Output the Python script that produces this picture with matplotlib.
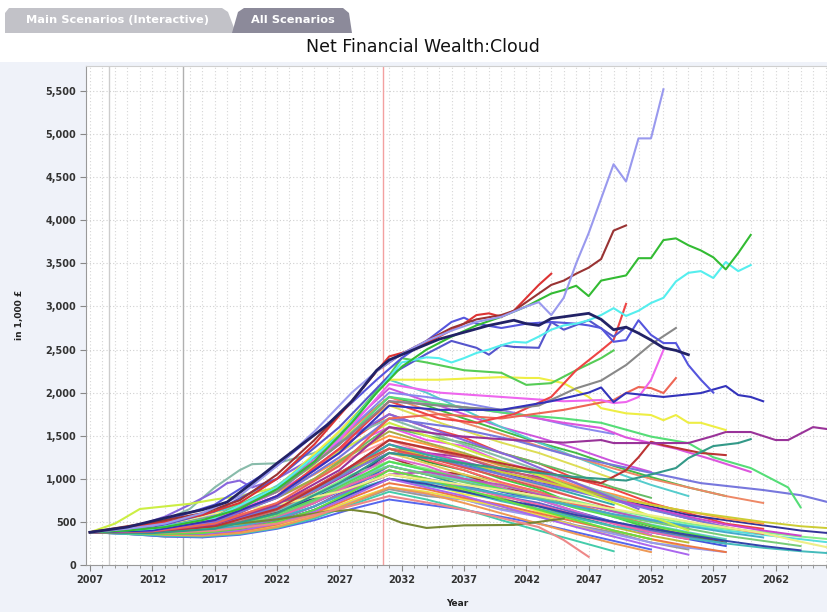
import matplotlib
matplotlib.use("Agg")
import matplotlib.pyplot as plt
from matplotlib.patches import Polygon
from matplotlib.ticker import MultipleLocator, FuncFormatter

# ---------------- data ----------------
title = "Net Financial Wealth:Cloud"
y_label = "in 1,000 £"
x_label = "Year"
tab_labels = ["Main Scenarios (Interactive)", "All Scenarios"]
x_ticks = [2007, 2012, 2017, 2022, 2027, 2032, 2037, 2042, 2047, 2052, 2057, 2062]
y_ticks = [0, 500, 1000, 1500, 2000, 2500, 3000, 3500, 4000, 4500, 5000, 5500]
marker_years = [2008.5, 2014.5, 2030.5]

cloud_years = [2007, 2010, 2013, 2016, 2019, 2022, 2025, 2028, 2031, 2034, 2037,
               2040, 2043, 2046, 2049, 2052, 2055, 2058, 2061, 2064, 2067]
N = None
cloud_lines = [
    [380, 420, 450, 500, 600, 800, 1100, 1450, 1750, 1600, 1480, 1300, 1180, 1000, 880, 720, 600, 480, 420, N, N],
    [380, 390, 360, 380, 430, 520, 680, 900, 1150, 1050, 980, 850, 760, 620, 500, 380, 300, 220, N, N, N],
    [380, 410, 420, 470, 560, 700, 900, 1150, 1400, 1250, 1150, 1000, 880, 700, 560, 420, 330, N, N, N, N],
    [380, 370, 340, 350, 400, 480, 620, 820, 1000, 950, 820, 760, 620, 520, 400, 300, 200, N, N, N, N],
    [380, 400, 430, 520, 650, 850, 1100, 1400, 1600, 1450, 1380, 1200, 1080, 920, 800, 650, N, N, N, N, N],
    [380, 380, 350, 360, 420, 540, 720, 950, 1200, 1100, 1030, 900, 830, 720, 620, 530, 460, 400, 350, 300, 250],
    [380, 420, 470, 530, 620, 780, 980, 1250, 1450, 1300, 1200, 1050, 920, 780, N, N, N, N, N, N, N],
    [380, 360, 330, 330, 370, 450, 560, 720, 880, 800, 760, 650, 580, 460, 380, 260, 180, N, N, N, N],
    [380, 400, 400, 430, 500, 620, 800, 1020, 1250, 1100, 1050, 900, 820, 680, 580, 450, 350, 260, N, N, N],
    [380, 390, 380, 410, 480, 600, 780, 1000, 1300, 1250, 1150, 1080, 950, 880, 760, 680, 580, 520, 460, 400, 360],
    [380, 410, 440, 480, 560, 690, 880, 1100, 1350, 1200, 1100, 950, 850, 700, 580, 450, 330, 250, N, N, N],
    [380, 370, 350, 370, 430, 530, 680, 880, 1050, 980, 860, 780, 650, 560, 440, 340, 260, N, N, N, N],
    [380, 400, 420, 460, 540, 660, 850, 1080, 1350, 1300, 1250, 1100, 1020, 900, 780, 650, 540, N, N, N, N],
    [380, 380, 370, 390, 450, 560, 730, 950, 1150, 1050, 920, 820, 680, 560, 450, N, N, N, N, N, N],
    [380, 420, 480, 560, 680, 850, 1050, 1300, 1500, 1400, 1280, 1150, 1060, 920, 820, 700, 620, 540, 480, N, N],
    [380, 360, 340, 350, 390, 470, 580, 740, 900, 820, 760, 640, 560, 450, 360, 260, 200, 150, N, N, N],
    [380, 390, 400, 440, 520, 640, 820, 1050, 1200, 1120, 1000, 920, 830, 740, 640, 560, 480, 420, 380, 330, 290],
    [380, 410, 430, 470, 550, 680, 870, 1100, 1300, 1180, 1050, 950, 820, 700, 580, 460, 360, N, N, N, N],
    [380, 370, 360, 380, 440, 560, 750, 1000, 1250, 1150, 1000, 900, 760, 620, 480, 350, N, N, N, N, N],
    [380, 400, 410, 450, 520, 630, 800, 1000, 1150, 1060, 980, 880, 780, 680, 560, 470, 380, 300, N, N, N],
    [380, 380, 390, 420, 500, 640, 850, 1150, 1450, 1350, 1250, 1120, 1000, 880, 760, 650, 540, 440, 360, N, N],
    [380, 390, 370, 390, 450, 560, 720, 920, 1100, 1000, 920, 800, 720, 600, 500, 400, 320, 250, N, N, N],
    [380, 420, 460, 520, 620, 780, 1000, 1300, 1600, 1500, 1420, 1300, 1180, 1050, 900, 780, N, N, N, N, N],
    [380, 370, 340, 340, 380, 460, 580, 750, 900, 850, 760, 680, 580, 450, 330, N, N, N, N, N, N],
    [380, 400, 420, 460, 540, 680, 880, 1150, 1400, 1300, 1200, 1080, 980, 860, 760, 660, 560, 470, 400, 340, N],
    [380, 380, 360, 370, 420, 510, 640, 820, 1000, 920, 850, 740, 650, 540, 450, 380, 310, 250, 200, 160, 130],
    [380, 410, 450, 500, 580, 710, 900, 1150, 1350, 1220, 1100, 960, 850, 700, 580, 460, N, N, N, N, N],
    [380, 360, 330, 320, 350, 420, 520, 650, 760, 700, 640, 560, 480, 380, 280, 180, N, N, N, N, N],
    [380, 400, 400, 420, 480, 590, 760, 980, 1200, 1100, 1000, 880, 780, 660, 560, 460, 370, 280, N, N, N],
    [380, 390, 410, 450, 530, 660, 860, 1120, 1350, 1280, 1180, 1080, 980, 880, 780, 700, 620, 560, 500, 450, 420],
    [380, 380, 370, 380, 430, 530, 680, 880, 1050, 1080, 1000, 930, 820, 720, 620, 520, 440, N, N, N, N],
    [380, 410, 430, 470, 550, 680, 880, 1130, 1400, 1280, 1180, 1050, 940, 820, 700, N, N, N, N, N, N],
    [380, 370, 350, 350, 390, 470, 600, 780, 950, 880, 780, 700, 600, 500, 400, 300, 220, 150, N, N, N],
    [380, 400, 420, 460, 540, 670, 860, 1100, 1300, 1250, 1150, 1050, 950, 850, 750, 640, 540, 440, N, N, N],
    [380, 390, 380, 400, 460, 570, 740, 960, 1150, 1050, 960, 860, 780, 680, 580, 500, 420, 340, 280, 220, N],
    [380, 420, 460, 520, 620, 780, 1000, 1280, 1550, 1420, 1300, 1160, 1040, 900, 780, N, N, N, N, N, N],
    [380, 380, 360, 380, 440, 550, 720, 940, 1100, 1000, 900, 800, 700, 580, 480, 380, 300, N, N, N, N],
    [380, 400, 390, 400, 450, 540, 680, 860, 1000, 960, 900, 820, 760, 680, 590, 520, 450, 380, 320, N, N],
    [380, 410, 440, 490, 570, 700, 900, 1150, 1350, 1250, 1130, 1020, 900, 780, 660, N, N, N, N, N, N],
    [380, 370, 350, 360, 410, 500, 640, 830, 1000, 940, 850, 760, 680, 580, 500, 420, 350, 280, 220, 170, N],
    [380, 420, 480, 560, 700, 900, 1200, 1600, 1950, 1850, 1700, 1560, 1420, 1300, 1150, 1020, 900, 800, N, N, N],
    [380, 400, 440, 520, 660, 880, 1180, 1550, 1850, 1700, 1560, 1420, 1300, 1150, 1000, N, N, N, N, N, N],
    [380, 410, 460, 540, 680, 900, 1220, 1650, 2050, 1900, 1750, 1600, 1480, 1350, 1200, 1080, N, N, N, N, N],
    [380, 420, 470, 550, 700, 920, 1250, 1700, 2150, 2000, 1800, 1600, 1420, 1250, 1080, 930, 800, N, N, N, N],
    [380, 400, 450, 530, 670, 880, 1180, 1580, 1950, 1800, 1650, 1520, 1380, 1250, 1120, 1000, 900, 800, 720, N, N],
    [380, 410, 460, 540, 680, 900, 1200, 1600, 2000, 1950, 1880, 1800, 1700, 1600, 1520, N, N, N, N, N, N],
    [380, 360, 340, 330, 360, 430, 540, 700, 850, 760, 650, 520, 400, 280, 160, N, N, N, N, N, N],
    [380, 380, 350, 340, 370, 440, 560, 720, 900, 830, 720, 600, 480, 360, 250, 150, N, N, N, N, N],
    [380, 390, 370, 360, 400, 480, 620, 800, 1000, 900, 800, 680, 560, 440, 330, 220, 120, N, N, N, N],
    [380, 370, 360, 370, 420, 500, 640, 850, 1100, 1000, 880, 760, 640, 520, 400, 300, N, N, N, N, N],
]
cloud_colors = ['#ee4444', '#4455dd', '#44cc44', '#eeee44', '#ee55ee', '#55dddd', '#ff9999',
                '#999999', '#aa3333', '#333399', '#339933', '#bbbb33', '#aa33aa', '#339999',
                '#ff9944', '#9999ee', '#88ee88', '#ddcc55', '#dd66cc', '#66cccc', '#cc6666',
                '#6666cc', '#66bb66', '#eedd44', '#cc44cc', '#44bbbb', '#ff6666', '#5566ee',
                '#55dd55', '#cccc33', '#bb55bb', '#33aaaa', '#ee7744', '#7777dd', '#77cc77',
                '#aaaa44', '#ee66aa', '#44aacc', '#dd5555', '#3344aa', '#44bb44', '#dddd55',
                '#cc55dd', '#55cccc', '#ee8866', '#8888ee', '#44ccaa', '#ee9955', '#aa66ee',
                '#66dd44']

# highlighted individual scenarios (year, value)
lav_years = [2007, 2010, 2013, 2016, 2019, 2022, 2025, 2028, 2030, 2032, 2034, 2036, 2038, 2040,
             2042, 2043, 2044, 2045, 2046, 2047, 2048, 2049, 2050, 2051, 2052, 2053]
lav_vals = [380, 420, 480, 600, 800, 1150, 1550, 2000, 2250, 2450, 2600, 2720, 2820, 2880,
            3000, 3050, 2900, 3100, 3500, 3850, 4250, 4650, 4450, 4950, 4950, 5520]

brown_years = [2007, 2010, 2013, 2016, 2019, 2022, 2025, 2028, 2030, 2032, 2034, 2036, 2038,
               2040, 2041, 2042, 2043, 2044, 2045, 2046, 2047, 2048, 2049, 2050]
brown_vals = [380, 450, 520, 600, 750, 1050, 1450, 1900, 2250, 2450, 2600, 2750, 2850,
              2900, 2950, 3050, 3150, 3250, 3300, 3380, 3450, 3550, 3880, 3940]

red_years = [2007, 2010, 2013, 2016, 2019, 2022, 2025, 2028, 2030, 2031, 2033, 2035, 2037,
             2038, 2039, 2040, 2041, 2042, 2043, 2044]
red_vals = [380, 430, 500, 580, 720, 1000, 1400, 1900, 2250, 2420, 2500, 2650, 2800,
            2900, 2920, 2880, 2950, 3100, 3250, 3380]

green_years = [2007, 2010, 2013, 2016, 2019, 2022, 2025, 2028, 2030, 2032, 2034, 2036, 2038,
               2040, 2042, 2044, 2045, 2046, 2047, 2048, 2049, 2050, 2051, 2052, 2053, 2054,
               2055, 2056, 2057, 2058, 2059, 2060]
green_vals = [380, 400, 440, 520, 650, 880, 1200, 1650, 2000, 2300, 2500, 2650, 2780,
              2880, 3000, 3150, 3190, 3240, 3120, 3300, 3330, 3360, 3560, 3560, 3770, 3790,
              3710, 3650, 3570, 3430, 3620, 3830]

cyan_years = [2007, 2012, 2017, 2022, 2027, 2030, 2032, 2034, 2035, 2036, 2037, 2038, 2039,
              2040, 2041, 2042, 2043, 2044, 2045, 2046, 2047, 2048, 2049, 2050, 2051, 2052,
              2053, 2054, 2055, 2056, 2057, 2058, 2059, 2060]
cyan_vals = [380, 420, 550, 900, 1500, 2000, 2350, 2410, 2400, 2350, 2400, 2460, 2500,
             2550, 2590, 2580, 2650, 2730, 2780, 2800, 2840, 2900, 2980, 2890, 2950, 3040,
             3100, 3290, 3390, 3410, 3330, 3515, 3410, 3480]

navy_years = [2007, 2010, 2012, 2014, 2016, 2018, 2020, 2022, 2024, 2026, 2028, 2030, 2031,
              2033, 2035, 2037, 2039, 2041, 2042, 2043, 2044, 2045, 2046, 2047, 2048, 2049,
              2050, 2051, 2052, 2053, 2054, 2055]
navy_vals = [380, 440, 510, 580, 640, 730, 950, 1180, 1400, 1620, 1900, 2260, 2380,
             2500, 2620, 2700, 2780, 2840, 2800, 2780, 2860, 2880, 2900, 2920, 2850, 2730,
             2760, 2690, 2610, 2520, 2490, 2440]

blue_years = [2007, 2012, 2017, 2022, 2027, 2030, 2032, 2034, 2036, 2037, 2038, 2040, 2042,
              2044, 2046, 2047, 2048, 2049, 2050, 2051, 2052, 2053, 2054, 2055, 2056, 2057]
blue_vals = [380, 470, 700, 1150, 1750, 2150, 2400, 2600, 2820, 2870, 2800, 2750, 2800,
             2820, 2800, 2780, 2750, 2590, 2610, 2840, 2670, 2575, 2575, 2320, 2150, 2000]

blue2_years = [2007, 2012, 2017, 2022, 2027, 2031, 2034, 2036, 2038, 2039, 2040, 2041, 2043,
               2044, 2045, 2047, 2049, 2050]
blue2_vals = [380, 430, 620, 1000, 1600, 2200, 2450, 2600, 2520, 2440, 2550, 2530, 2520,
              2820, 2730, 2840, 2650, 2760]

blue3_years = [2007, 2012, 2017, 2022, 2027, 2031, 2035, 2040, 2044, 2047, 2048, 2049, 2050,
               2053, 2056, 2058, 2059, 2060, 2061]
blue3_vals = [380, 400, 520, 800, 1300, 1850, 1800, 1800, 1900, 2000, 2060, 1890, 1995,
              1950, 1995, 2077, 1972, 1950, 1900]

gray_years = [2007, 2012, 2017, 2022, 2027, 2031, 2035, 2040, 2043, 2046, 2048, 2050, 2052, 2054]
gray_vals = [380, 420, 560, 850, 1400, 1900, 1850, 1800, 1850, 2050, 2140, 2320, 2560, 2750]

red2_years = [2007, 2012, 2017, 2022, 2027, 2031, 2035, 2038, 2041, 2044, 2046, 2048, 2049, 2050]
red2_vals = [380, 410, 520, 800, 1350, 1900, 1700, 1650, 1750, 1950, 2260, 2490, 2610, 3030]

green2_years = [2007, 2012, 2017, 2022, 2027, 2031, 2032, 2034, 2037, 2040, 2042, 2044, 2046, 2048, 2049]
green2_vals = [380, 420, 560, 900, 1500, 2200, 2400, 2350, 2260, 2230, 2090, 2110, 2260, 2400, 2490]

pink_years = [2007, 2012, 2017, 2022, 2027, 2031, 2035, 2040, 2045, 2048, 2049, 2050, 2051, 2052, 2053]
pink_vals = [380, 400, 520, 850, 1450, 2100, 2000, 1950, 1900, 1914, 1879, 1891, 1949, 2146, 2494]

orange_years = [2007, 2012, 2017, 2022, 2027, 2031, 2035, 2040, 2045, 2049, 2050, 2051, 2052, 2053, 2054]
orange_vals = [380, 390, 480, 720, 1150, 1700, 1750, 1700, 1800, 1914, 1995, 2065, 2053, 1995, 2169]

yellow_years = [2007, 2012, 2017, 2022, 2027, 2031, 2035, 2040, 2042, 2043, 2045, 2047, 2048,
                2050, 2052, 2053, 2054, 2055, 2056, 2058]
yellow_vals = [380, 420, 560, 900, 1550, 2150, 2150, 2180, 2170, 2170, 2110, 1950, 1820,
               1760, 1740, 1680, 1740, 1650, 1650, 1566]

purple_years = [2007, 2012, 2017, 2022, 2027, 2031, 2036, 2041, 2045, 2048, 2049, 2052, 2055,
                2057, 2058, 2060, 2062, 2063, 2065, 2067]
purple_vals = [380, 390, 470, 700, 1100, 1600, 1500, 1450, 1420, 1450, 1415, 1415, 1415,
               1497, 1543, 1543, 1450, 1450, 1600, 1560]

teal_years = [2007, 2012, 2017, 2022, 2027, 2031, 2036, 2041, 2046, 2050, 2052, 2054, 2055, 2057, 2059, 2060]
teal_vals = [380, 370, 420, 600, 950, 1300, 1200, 1100, 1020, 980, 1050, 1125, 1240, 1380, 1415, 1460]

dkred_years = [2007, 2012, 2017, 2022, 2027, 2031, 2036, 2041, 2046, 2048, 2050, 2051, 2052, 2053, 2056, 2058]
dkred_vals = [380, 380, 450, 650, 1050, 1450, 1300, 1150, 1000, 950, 1100, 1250, 1430, 1390, 1300, 1275]

lgreen_years = [2007, 2012, 2017, 2022, 2027, 2031, 2036, 2041, 2045, 2048, 2052, 2055, 2057, 2060, 2063, 2064]
lgreen_vals = [380, 420, 540, 850, 1400, 1950, 1850, 1750, 1700, 1650, 1490, 1415, 1250, 1125, 900, 670]

violet_years = [2007, 2012, 2017, 2022, 2027, 2031, 2036, 2041, 2046, 2051, 2056, 2061, 2064, 2067]
violet_vals = [380, 400, 500, 780, 1250, 1700, 1600, 1450, 1250, 1100, 950, 870, 810, 700]

mag_years = [2007, 2012, 2017, 2022, 2027, 2031, 2036, 2041, 2045, 2048, 2050, 2054, 2057, 2060]
mag_vals = [380, 410, 520, 800, 1350, 1900, 1850, 1750, 1650, 1590, 1480, 1350, 1220, 1080]

lyellow_years = [2007, 2012, 2017, 2022, 2027, 2031, 2036, 2041, 2046, 2051, 2056, 2061, 2064, 2067]
lyellow_vals = [380, 430, 600, 700, 850, 1050, 950, 850, 720, 600, 480, 370, 270, 180]

olive_years = [2007, 2012, 2017, 2022, 2026, 2028, 2030, 2032, 2034, 2037, 2041, 2043, 2045]
olive_vals = [380, 400, 450, 530, 620, 640, 600, 490, 430, 460, 465, 500, 540]

salmon_years = [2007, 2012, 2017, 2022, 2027, 2031, 2035, 2039, 2043, 2045, 2047]
salmon_vals = [380, 370, 400, 480, 650, 800, 700, 580, 440, 290, 95]

teal2_years = [2007, 2010, 2013, 2015, 2017, 2019, 2020, 2022, 2025, 2028, 2031, 2035, 2040, 2045, 2050]
teal2_vals = [380, 430, 520, 650, 900, 1100, 1170, 1180, 1300, 1500, 1700, 1500, 1250, 1000, 750]

vio2_years = [2007, 2010, 2013, 2015, 2017, 2018, 2019, 2020, 2022, 2025, 2028, 2031, 2036, 2041, 2046, 2051]
vio2_vals = [380, 420, 560, 700, 850, 950, 980, 900, 1000, 1250, 1500, 1750, 1500, 1250, 950, 650]

ygreen_years = [2007, 2009, 2011, 2013, 2015, 2017, 2019, 2022, 2025, 2028, 2031, 2036, 2041, 2046, 2051, 2055]
ygreen_vals = [380, 480, 650, 680, 710, 760, 800, 900, 1150, 1400, 1650, 1400, 1150, 880, 620, 400]

highlights = [
    (olive_years, olive_vals, '#778833'), (salmon_years, salmon_vals, '#ee8888'),
    (teal2_years, teal2_vals, '#88bbaa'), (vio2_years, vio2_vals, '#8866dd'),
    (ygreen_years, ygreen_vals, '#ccee44'), (lyellow_years, lyellow_vals, '#eeee88'),
    (violet_years, violet_vals, '#7777dd'), (mag_years, mag_vals, '#dd55dd'),
    (lgreen_years, lgreen_vals, '#55dd77'), (dkred_years, dkred_vals, '#bb3333'),
    (teal_years, teal_vals, '#339988'), (purple_years, purple_vals, '#993399'),
    (yellow_years, yellow_vals, '#eeee44'), (orange_years, orange_vals, '#ee6655'),
    (pink_years, pink_vals, '#ee66ee'), (green2_years, green2_vals, '#55cc55'),
    (red2_years, red2_vals, '#ee4444'), (gray_years, gray_vals, '#888888'),
    (blue3_years, blue3_vals, '#3333bb'), (blue2_years, blue2_vals, '#5555cc'),
    (blue_years, blue_vals, '#5555dd'), (cyan_years, cyan_vals, '#55eeee'),
    (green_years, green_vals, '#33bb33'), (red_years, red_vals, '#dd3333'),
    (brown_years, brown_vals, '#993333'), (lav_years, lav_vals, '#9999ee'),
    (navy_years, navy_vals, '#222266'),
]

# ---------------- figure ----------------
W, H = 828, 612
fig = plt.figure(figsize=(W / 100, H / 100), dpi=100)
fig.patch.set_facecolor('#eff2f9')

def fx(px):
    return px / W

def fy(py):
    return 1 - py / H

# white header strip
fig.patches.append(Polygon([(fx(0), fy(62)), (fx(W), fy(62)), (fx(W), fy(0)), (fx(0), fy(0))],
                           closed=True, transform=fig.transFigure, facecolor='white', edgecolor='none', zorder=0))
# tabs
tab1 = [(5, 33), (5, 13), (9, 8), (222, 8), (228, 12), (236, 33)]
tab2 = [(232, 33), (238, 12), (244, 8), (343, 8), (349, 13), (352, 33)]
for pts, col in [(tab1, '#c2c2c8'), (tab2, '#8c8a9a')]:
    fig.patches.append(Polygon([(fx(x), fy(y)) for x, y in pts], closed=True,
                               transform=fig.transFigure, facecolor=col, edgecolor='none', zorder=1))
fig.text(fx(118), fy(20), tab_labels[0], color='white', fontsize=8.2, fontweight='bold',
         ha='center', va='center')
fig.text(fx(293), fy(20), tab_labels[1], color='white', fontsize=8.2, fontweight='bold',
         ha='center', va='center')

fig.text(fx(423), fy(47), title, fontsize=12.5, ha='center', va='center', color='#111111')

ax = fig.add_axes([fx(86), fy(565), fx(828) - fx(86), fy(66) - fy(565)])
ax.set_facecolor('white')
ax.set_xlim(2006.68, 2066.2)
ax.set_ylim(0, 5790)

for vals, col in zip(cloud_lines, cloud_colors):
    xs = [y for y, v in zip(cloud_years, vals) if v is not None]
    ys = [v for v in vals if v is not None]
    ax.plot(xs, ys, color=col, lw=1.4, solid_joinstyle='round', zorder=3)

for i, (xs, ys, col) in enumerate(highlights):
    lw = 2.0 if col == '#222266' else 1.5
    ax.plot(xs, ys, color=col, lw=lw, solid_joinstyle='round', zorder=4 + i * 0.01)

# marker lines
ax.axvline(marker_years[0], color='#cccccc', lw=1.0, zorder=2)
ax.axvline(marker_years[1], color='#b0b0b0', lw=1.0, zorder=2)
ax.axvline(marker_years[2], color='#f3a0a0', lw=1.0, zorder=2)

ax.set_xticks(x_ticks)
ax.xaxis.set_minor_locator(MultipleLocator(1))
ax.set_yticks(y_ticks)
ax.yaxis.set_major_formatter(FuncFormatter(lambda v, p: f"{int(v):,}"))
ax.grid(True, which='both', axis='x', color='#d6d6d6', ls=(0, (1, 2)), lw=0.8, zorder=1)
ax.grid(True, which='major', axis='y', color='#d0d0d0', ls=(0, (1, 2)), lw=0.8, zorder=1)

ax.spines['right'].set_visible(False)
ax.spines['top'].set_color('#cfcfcf')
ax.spines['left'].set_color('#999999')
ax.spines['bottom'].set_color('#999999')
ax.tick_params(axis='both', which='major', length=4, color='#888888', labelsize=7,
               labelcolor='#333333', pad=3)
ax.tick_params(axis='x', which='minor', length=2, color='#888888')
for lab in ax.get_xticklabels() + ax.get_yticklabels():
    lab.set_fontweight('bold')

fig.text(fx(20), fy(315), y_label, rotation=90, fontsize=6.5, fontweight='bold',
         ha='center', va='center', color='#222222')
fig.text(fx(457), fy(604), x_label, fontsize=6.5, fontweight='bold', ha='center',
         va='center', color='#222222')

fig.savefig('out.png', dpi=100, facecolor=fig.get_facecolor())
